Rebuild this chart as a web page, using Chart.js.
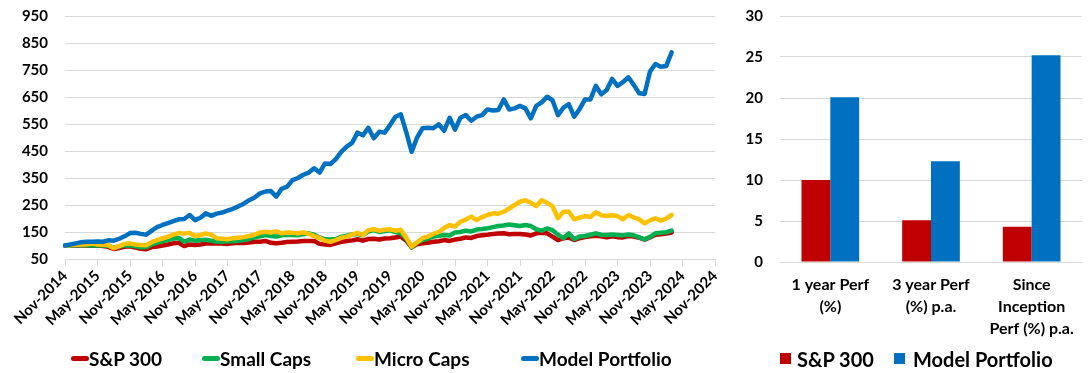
<!DOCTYPE html>
<html>
<head>
<meta charset="utf-8">
<script src="https://cdn.jsdelivr.net/npm/chart.js@4/dist/chart.umd.min.js"></script>
<style>
  body { margin: 0; background: #fff; font-family: Lato, sans-serif; }
  #wrap { position: relative; width: 1092px; height: 373px; overflow: hidden; }
  .box { position: absolute; }
  .leg { position: absolute; top: 347px; height: 24px; line-height: 24px; font-weight: bold; color: #000; white-space: nowrap; }
  .line-mark { position: absolute; top: 356px; width: 18px; height: 5px; border-radius: 3px; }
  .sq-mark { position: absolute; top: 353px; width: 11px; height: 11px; }
</style>
</head>
<body>
<div id="wrap">
  <div class="box" style="left:0;top:0;width:730px;height:345px;"><canvas id="perfLine"></canvas></div>
  <div class="box" style="left:725px;top:0;width:367px;height:350px;"><canvas id="perfBar"></canvas></div>

  <div class="line-mark" style="left:71px;background:#C00000;"></div>
  <div class="leg" style="left:89px;font-size:19px;">S&amp;P 300</div>
  <div class="line-mark" style="left:202px;background:#00B050;"></div>
  <div class="leg" style="left:220px;font-size:19px;">Small Caps</div>
  <div class="line-mark" style="left:356px;background:#FFC000;"></div>
  <div class="leg" style="left:374px;font-size:19px;">Micro Caps</div>
  <div class="line-mark" style="left:521px;background:#0070C0;"></div>
  <div class="leg" style="left:539px;font-size:19px;">Model Portfolio</div>

  <div class="sq-mark" style="left:780px;background:#C00000;"></div>
  <div class="leg" style="left:797px;font-size:20px;">S&amp;P 300</div>
  <div class="sq-mark" style="left:894px;background:#0070C0;"></div>
  <div class="leg" style="left:913px;font-size:20px;">Model Portfolio</div>
</div>

<script>
// axis tick labels, one every 6 months
const tickLabels = ["Nov-2014", "May-2015", "Nov-2015", "May-2016", "Nov-2016", "May-2017", "Nov-2017",
    "May-2018", "Nov-2018", "May-2019", "Nov-2019", "May-2020", "Nov-2020", "May-2021", "Nov-2021",
    "May-2022", "Nov-2022", "May-2023", "Nov-2023", "May-2024", "Nov-2024"];

// monthly index values, Nov-2014 .. Mar-2024
const sp300 = [100, 99, 100, 101, 100, 99, 100, 98, 95, 87, 91, 95, 97, 92, 88, 86, 94, 96, 100, 104,
    108, 110, 98, 104, 102, 104, 107, 107, 108, 107, 106, 108, 110, 109, 111, 114, 114, 117, 110, 108,
    110, 113, 114, 115, 117, 117, 117, 106, 104, 102, 108, 114, 117, 119, 123, 118, 124, 125, 122, 126,
    127, 130, 133, 118, 93, 105, 108, 110, 114, 116, 120, 117, 122, 125, 130, 128, 135, 138, 140, 143,
    144, 145, 142, 143, 143, 141, 137, 145, 147, 145, 133, 120, 127, 130, 120, 127, 131, 134, 136, 134,
    130, 134, 131, 130, 135, 133, 129, 122, 130, 140, 142, 144, 148];

const smallCaps = [100, 100, 101, 102, 101, 100, 101, 100, 99, 92, 96, 100, 101, 97, 93, 94, 104, 110, 116, 120,
    126, 128, 114, 122, 118, 120, 121, 118, 114, 114, 116, 116, 118, 120, 124, 130, 134, 139, 135, 133,
    138, 140, 139, 138, 142, 145, 140, 130, 123, 122, 124, 132, 136, 141, 143, 138, 152, 157, 150, 154,
    156, 150, 145, 125, 93, 110, 120, 126, 133, 136, 139, 137, 148, 150, 155, 152, 159, 161, 164, 168,
    172, 174, 178, 175, 172, 176, 172, 160, 155, 163, 157, 140, 127, 145, 123, 133, 135, 140, 145, 140,
    139, 141, 139, 137, 141, 138, 130, 123, 132, 145, 147, 149, 155];

const microCaps = [100, 101, 103, 104, 105, 107, 104, 103, 101, 90, 98, 106, 108, 104, 102, 101, 112, 120, 126, 132,
    140, 146, 144, 147, 135, 138, 145, 140, 127, 125, 123, 127, 129, 131, 135, 140, 148, 151, 148, 152,
    145, 148, 147, 145, 148, 143, 135, 128, 118, 114, 120, 128, 133, 140, 147, 139, 157, 160, 155, 158,
    160, 155, 158, 130, 96, 112, 127, 133, 143, 150, 165, 176, 170, 188, 196, 207, 194, 205, 213, 219,
    218, 225, 237, 250, 262, 268, 258, 246, 268, 258, 246, 201, 225, 226, 197, 203, 209, 205, 223, 212,
    209, 212, 209, 197, 213, 204, 197, 182, 193, 201, 192, 200, 213];

const modelPortfolio = [100, 104, 108, 112, 114, 114, 115, 114, 119, 118, 125, 134, 146, 147, 143, 140, 155, 168, 176, 183,
    190, 197, 198, 213, 194, 203, 219, 210, 218, 222, 229, 236, 245, 255, 268, 278, 293, 300, 302, 281,
    310, 318, 342, 350, 362, 370, 386, 370, 404, 402, 420, 447, 466, 480, 518, 508, 536, 497, 521, 518,
    546, 577, 586, 520, 447, 500, 534, 536, 534, 549, 525, 573, 529, 573, 583, 562, 577, 583, 604, 600,
    602, 641, 604, 608, 617, 608, 571, 617, 630, 651, 638, 583, 610, 624, 577, 605, 641, 641, 691, 660,
    676, 717, 691, 705, 723, 695, 664, 661, 744, 772, 762, 765, 815];

// right chart
const perfCategories = [["1 year Perf", "(%)"], ["3 year Perf", "(%) p.a."], ["Since", "Inception", "Perf (%) p.a."]];
const perfSp300 = [10.0, 5.1, 4.3];
const perfModel = [20.1, 12.3, 25.2];

const monthNames = ["Jan", "Feb", "Mar", "Apr", "May", "Jun", "Jul", "Aug", "Sep", "Oct", "Nov", "Dec"];
const months = [];
for (let i = 0; i <= 120; i++) {
    const m = 10 + i;
    months.push(monthNames[m % 12] + "-" + (2014 + Math.floor(m / 12)));
}

Chart.defaults.font.family = "Lato, sans-serif";
Chart.defaults.font.weight = "bold";
Chart.defaults.color = "#000";
Chart.defaults.animation = false;

const gridColor = "#d9d9d9";

function lineSet(label, data, color, order) {
    return {
        label: label,
        data: data,
        borderColor: color,
        backgroundColor: color,
        borderWidth: 4.5,
        pointRadius: 0,
        tension: 0,
        borderJoinStyle: "round",
        borderCapStyle: "round",
        order: order
    };
}

// fixed axis width, and no extra room above the top tick
function fixYAxis(width) {
    return function (scale) {
        scale.width = width;
        scale.paddingTop = 0;
        scale.paddingBottom = 0;
    };
}

new Chart(document.getElementById("perfLine"), {
    type: "line",
    data: {
        labels: months,
        datasets: [
            lineSet("S&P 300", sp300, "#C00000", 4),
            lineSet("Small Caps", smallCaps, "#00B050", 3),
            lineSet("Micro Caps", microCaps, "#FFC000", 2),
            lineSet("Model Portfolio", modelPortfolio, "#0070C0", 1)
        ]
    },
    options: {
        responsive: true,
        maintainAspectRatio: false,
        layout: { autoPadding: false, padding: { top: 16, right: 15, left: 0, bottom: 0 } },
        plugins: { legend: { display: false }, tooltip: { enabled: false } },
        scales: {
            x: {
                offset: false,
                grid: { drawOnChartArea: false, drawTicks: true, tickLength: 7, color: gridColor },
                border: { display: true, color: gridColor },
                ticks: {
                    autoSkip: false,
                    maxRotation: 45,
                    minRotation: 45,
                    padding: 1,
                    font: { size: 15, weight: "bold" },
                    callback: function (value, index) {
                        return index % 6 === 0 ? tickLabels[index / 6] : null;
                    }
                },
                afterFit: function (scale) { scale.height = 86; }
            },
            y: {
                min: 50,
                max: 950,
                grid: { color: gridColor, drawTicks: false },
                border: { display: false },
                ticks: { stepSize: 100, padding: 17, font: { size: 15, weight: "bold" } },
                afterFit: fixYAxis(65)
            }
        }
    }
});

new Chart(document.getElementById("perfBar"), {
    type: "bar",
    data: {
        labels: perfCategories,
        datasets: [
            { label: "S&P 300", data: perfSp300, backgroundColor: "#C00000", categoryPercentage: 0.573, barPercentage: 1 },
            { label: "Model Portfolio", data: perfModel, backgroundColor: "#0070C0", categoryPercentage: 0.573, barPercentage: 1 }
        ]
    },
    options: {
        responsive: true,
        maintainAspectRatio: false,
        layout: { autoPadding: false, padding: { top: 16, right: 10, left: 0, bottom: 0 } },
        plugins: { legend: { display: false }, tooltip: { enabled: false } },
        scales: {
            x: {
                grid: { display: false, drawTicks: false },
                border: { display: true, color: gridColor },
                ticks: { padding: 12, maxRotation: 0, font: { size: 16, weight: "bold", lineHeight: 1.36 } },
                afterFit: function (scale) { scale.height = 88; }
            },
            y: {
                min: 0,
                max: 30,
                grid: { color: gridColor, drawTicks: false },
                border: { display: false },
                ticks: { stepSize: 5, padding: 17, font: { size: 15, weight: "bold" } },
                afterFit: fixYAxis(55)
            }
        }
    }
});
</script>
</body>
</html>
